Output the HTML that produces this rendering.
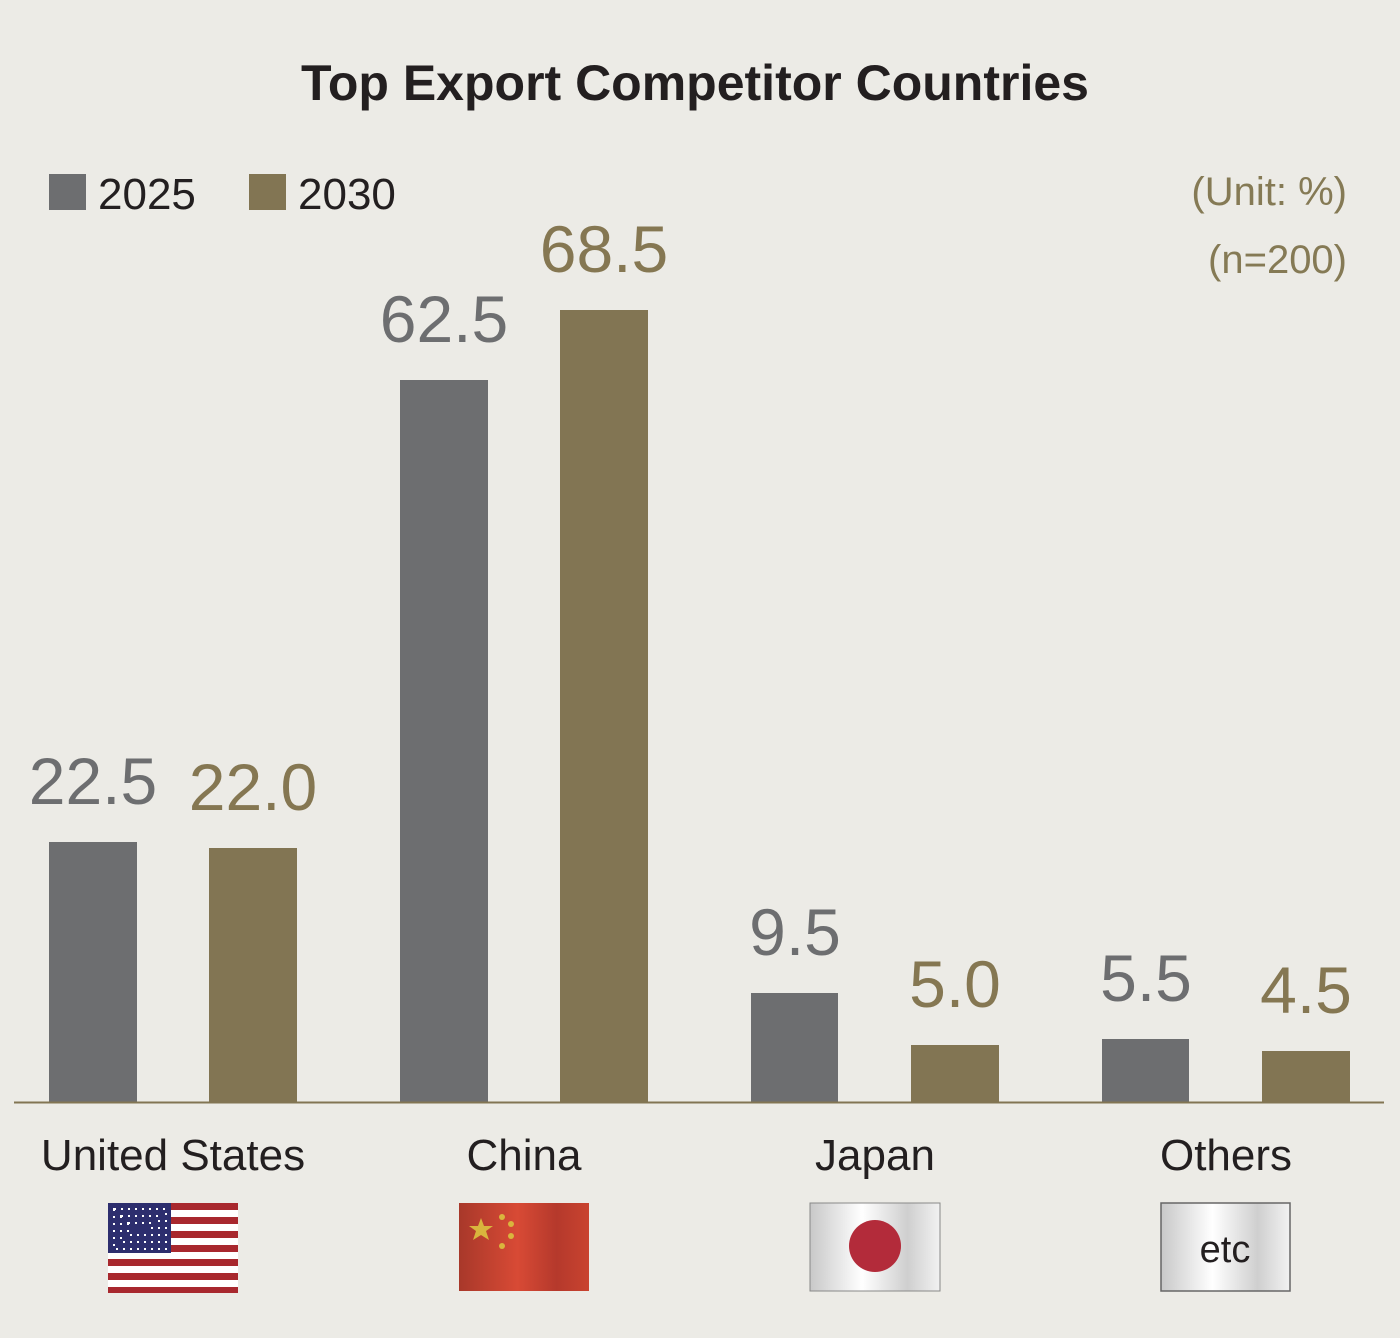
<!DOCTYPE html>
<html><head><meta charset="utf-8"><style>
html,body{margin:0;padding:0;background:#ecebe6;}
svg{display:block;}
text{font-family:"Liberation Sans",sans-serif;}
</style></head><body>
<svg width="1400" height="1338" viewBox="0 0 1400 1338" xmlns="http://www.w3.org/2000/svg">
<defs>
<linearGradient id="cn" x1="0" x2="1"><stop offset="0" stop-color="#a8382a"/><stop offset="0.45" stop-color="#d84a35"/><stop offset="0.75" stop-color="#b5392c"/><stop offset="1" stop-color="#c9432f"/></linearGradient>
<linearGradient id="wh" x1="0" x2="1"><stop offset="0" stop-color="#c8c8c8"/><stop offset="0.4" stop-color="#ffffff"/><stop offset="0.75" stop-color="#cfcfcf"/><stop offset="1" stop-color="#f2f2f2"/></linearGradient>
</defs>
<rect width="1400" height="1338" fill="#ecebe6"/>
<text x="695" y="100" font-size="50" font-weight="bold" fill="#231f20" text-anchor="middle">Top Export Competitor Countries</text>
<rect x="49" y="174" width="37" height="36" fill="#6d6e70"/>
<text x="98" y="209" font-size="44" fill="#231f20">2025</text>
<rect x="249" y="174" width="37" height="36" fill="#827553"/>
<text x="298" y="209" font-size="44" fill="#231f20">2030</text>
<text x="1347" y="205" font-size="40" fill="#857a55" text-anchor="end">(Unit: %)</text>
<text x="1347" y="273" font-size="40" fill="#857a55" text-anchor="end">(n=200)</text>
<g fill="#6d6e70">
<rect x="49" y="842" width="88" height="261"/>
<rect x="400" y="380" width="88" height="723"/>
<rect x="751" y="993" width="87" height="110"/>
<rect x="1102" y="1039" width="87" height="64"/>
</g>
<g fill="#827553">
<rect x="209" y="848" width="88" height="255"/>
<rect x="560" y="310" width="88" height="793"/>
<rect x="911" y="1045" width="88" height="58"/>
<rect x="1262" y="1051" width="88" height="52"/>
</g>
<line x1="14" y1="1102.5" x2="1384" y2="1102.5" stroke="#827553" stroke-width="2"/>
<g font-size="66" text-anchor="middle" fill="#6d6e70">
<text x="93" y="804">22.5</text>
<text x="444" y="342">62.5</text>
<text x="795" y="955">9.5</text>
<text x="1146" y="1001">5.5</text>
</g>
<g font-size="66" text-anchor="middle" fill="#857752">
<text x="253" y="810">22.0</text>
<text x="604" y="272">68.5</text>
<text x="955" y="1007">5.0</text>
<text x="1306" y="1013">4.5</text>
</g>
<g font-size="44" text-anchor="middle" fill="#231f20">
<text x="173" y="1170">United States</text>
<text x="524" y="1170">China</text>
<text x="875" y="1170">Japan</text>
<text x="1226" y="1170">Others</text>
</g>
<!-- US flag -->
<g>
<rect x="108" y="1203" width="130" height="90" fill="#fff"/>
<g fill="#a8282e">
<rect x="108" y="1203" width="130" height="7"/><rect x="108" y="1217" width="130" height="7"/><rect x="108" y="1231" width="130" height="7"/><rect x="108" y="1245" width="130" height="7"/><rect x="108" y="1259" width="130" height="7"/><rect x="108" y="1273" width="130" height="7"/><rect x="108" y="1287" width="130" height="6"/>
</g>
<rect x="108" y="1203" width="63" height="50" fill="#2d2e6e"/>
<g fill="#fff"><rect x="114" y="1209" width="52" height="40" fill="none" stroke="#fff" stroke-dasharray="2 5" stroke-width="2"/><rect x="121" y="1216" width="38" height="26" fill="none" stroke="#fff" stroke-dasharray="2 5" stroke-width="2"/><rect x="128" y="1223" width="24" height="12" fill="none" stroke="#fff" stroke-dasharray="2 5" stroke-width="2"/></g>
</g>
<!-- China flag -->
<rect x="459" y="1203" width="130" height="88" fill="url(#cn)"/>
<g fill="#d9b53d">
<polygon points="481,1218 484,1226 493,1226 486,1231 489,1240 481,1235 473,1240 476,1231 469,1226 478,1226"/>
<circle cx="502" cy="1217" r="3"/><circle cx="511" cy="1224" r="3"/><circle cx="511" cy="1236" r="3"/><circle cx="502" cy="1246" r="3"/>
</g>
<!-- Japan flag -->
<rect x="810" y="1203" width="130" height="88" fill="url(#wh)" stroke="#888" stroke-width="1"/>
<circle cx="875" cy="1246" r="26" fill="#b32b3a"/>
<!-- etc flag -->
<rect x="1161" y="1203" width="129" height="88" fill="url(#wh)" stroke="#666" stroke-width="1.5"/>
<text x="1225" y="1262" font-size="38" fill="#231f20" text-anchor="middle">etc</text>
</svg>
</body></html>
